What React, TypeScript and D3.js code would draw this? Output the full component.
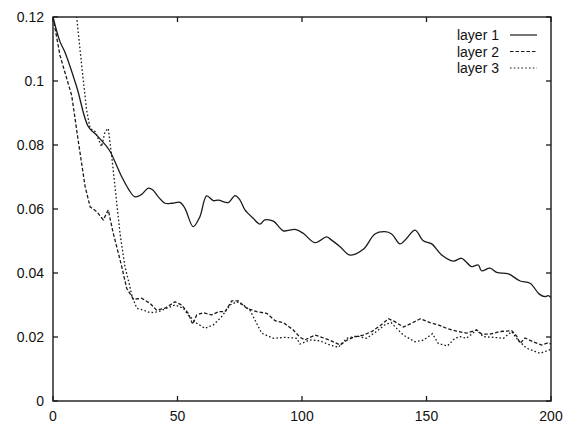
import React from "react";
import * as d3 from "d3";

const layer1X = [0, 2.8, 4.8, 9.5, 14.2, 17.5, 21.6, 23, 27.6, 30.5, 32.9, 35.5, 38.3, 40, 42.3, 45, 48, 51, 53, 56.3, 59, 61.7, 64.4, 66.4, 70.4, 73.1, 75.1, 77.1, 80.4, 83.1, 85.1, 88.5, 92.5, 97.2, 100.5, 105.2, 109.9, 111.5, 115.3, 119.3, 124.6, 129.3, 133.3, 136, 139.4, 142, 145.4, 148.7, 152.1, 156.1, 160.8, 164.1, 168.1, 170.8, 172.1, 175.5, 178.2, 182.9, 187.6, 191.6, 195.3, 197.6, 198.9, 200];
const layer1Y = [0.12, 0.1123, 0.109, 0.0982, 0.0857, 0.0831, 0.0795, 0.0779, 0.0701, 0.066, 0.0638, 0.0645, 0.0665, 0.066, 0.0638, 0.0618, 0.0618, 0.0621, 0.0602, 0.0545, 0.0576, 0.0641, 0.0626, 0.0628, 0.062, 0.0642, 0.0628, 0.0597, 0.0571, 0.0553, 0.0566, 0.0562, 0.0532, 0.0536, 0.0524, 0.0495, 0.0513, 0.0505, 0.0482, 0.0456, 0.0474, 0.0522, 0.0529, 0.0522, 0.0491, 0.0508, 0.0534, 0.0501, 0.0491, 0.0456, 0.0437, 0.0446, 0.042, 0.0425, 0.0407, 0.0415, 0.0402, 0.0397, 0.0375, 0.0368, 0.0334, 0.0326, 0.0329, 0.0323];

const layer2X = [0, 2.8, 5.5, 7.5, 10.2, 12.9, 14.9, 17.5, 20.2, 22.2, 24.2, 25.6, 27.6, 29.6, 32.3, 35.6, 39, 41.6, 45, 49, 51.7, 54.3, 56.1, 57.7, 60.4, 63.7, 66.4, 69.1, 71.8, 74.4, 77.8, 81.8, 85.8, 89.2, 92.5, 96.5, 99.2, 101.2, 105.2, 107.2, 111.2, 115.3, 118, 120.6, 124.6, 128, 131.3, 134.7, 137.3, 140.7, 144, 147.6, 151.4, 154.7, 158.1, 162.1, 166.1, 170.1, 172.1, 175.5, 179.5, 184.2, 186.2, 187.6, 189.6, 192.9, 196.3, 198.9, 200];
const layer2Y = [0.12, 0.108, 0.1008, 0.0955, 0.081, 0.067, 0.0607, 0.0592, 0.0566, 0.0597, 0.0524, 0.0482, 0.042, 0.0352, 0.0318, 0.0321, 0.0305, 0.0284, 0.029, 0.031, 0.03, 0.0274, 0.024, 0.0269, 0.0276, 0.0269, 0.0279, 0.0279, 0.0313, 0.0313, 0.029, 0.0279, 0.0274, 0.0251, 0.0245, 0.0222, 0.0199, 0.0191, 0.0206, 0.0201, 0.019, 0.0175, 0.019, 0.0199, 0.0206, 0.0217, 0.0235, 0.0257, 0.0248, 0.0231, 0.0243, 0.0257, 0.0245, 0.0238, 0.0227, 0.0218, 0.0212, 0.0222, 0.0209, 0.0209, 0.0217, 0.022, 0.0203, 0.018, 0.0197, 0.0185, 0.0175, 0.0182, 0.0178];

const layer3X = [6, 9.5, 11.5, 13.5, 14.9, 16.9, 19.5, 20.9, 22.2, 23.6, 24.9, 26.9, 28.9, 30.9, 31.6, 33.6, 36.3, 39, 42.3, 45.7, 49, 52.3, 54.3, 57.7, 61, 64.4, 67.7, 71.1, 73.8, 76.4, 79.1, 81.1, 83.8, 88.5, 93.2, 97.9, 99.2, 103.2, 107.2, 111.2, 114.6, 118, 121.9, 125.9, 129.9, 133.3, 135.8, 138, 140.7, 145.4, 148.7, 152.4, 154.7, 158.4, 161.4, 163.5, 166.1, 170.1, 172.8, 176.8, 180.9, 184.2, 186.8, 190.2, 195.6, 199.6, 200];
const layer3Y = [0.145, 0.12, 0.105, 0.0909, 0.0852, 0.0842, 0.0795, 0.0842, 0.0852, 0.0763, 0.067, 0.0524, 0.042, 0.0357, 0.0331, 0.029, 0.0284, 0.0276, 0.0279, 0.029, 0.03, 0.029, 0.0269, 0.0243, 0.0227, 0.0238, 0.0263, 0.03, 0.031, 0.03, 0.0284, 0.0253, 0.0212, 0.0196, 0.0199, 0.0196, 0.0178, 0.0191, 0.0188, 0.0175, 0.0168, 0.0196, 0.0203, 0.0196, 0.0217, 0.0238, 0.0245, 0.0227, 0.0206, 0.0185, 0.019, 0.021, 0.018, 0.0172, 0.0196, 0.0201, 0.0196, 0.0222, 0.0201, 0.0199, 0.0196, 0.0217, 0.019, 0.0165, 0.0149, 0.016, 0.0158];

const seriesNames = ["layer 1", "layer 2", "layer 3"];
const xTicks = [0, 50, 100, 150, 200];
const yTicks = [0, 0.02, 0.04, 0.06, 0.08, 0.1, 0.12];
const yTickLabels = ["0", "0.02", "0.04", "0.06", "0.08", "0.1", "0.12"];

const W = 565;
const H = 423;
const L = 53, R = 551, T = 17, B = 401;
const FONT = "'Liberation Sans', Arial, Helvetica, sans-serif";

export default function App() {
  const x = d3.scaleLinear().domain([0, 200]).range([L, R]);
  const y = d3.scaleLinear().domain([0, 0.12]).range([B, T]);

  const series = [
    { xs: layer1X, ys: layer1Y, dash: undefined as string | undefined, curve: d3.curveCatmullRom },
    { xs: layer2X, ys: layer2Y, dash: "3.5,2", curve: d3.curveLinear },
    { xs: layer3X, ys: layer3Y, dash: "1.6,2.2", curve: d3.curveLinear },
  ];

  const mk = (xs: number[], ys: number[], curve: any) =>
    d3
      .line<number>()
      .x((_, i) => x(xs[i]))
      .y((_, i) => y(ys[i]))
      .curve(curve)(xs) || "";

  const tickLen = 5;
  const stroke = "#1a1a1a";

  return (
    <div style={{ position: "absolute", left: 0, top: 0 }}>
      <svg width={W} height={H} style={{ display: "block", background: "#fff" }}>
        <defs>
          <clipPath id="plot">
            <rect x={L} y={T} width={R - L} height={B - T} />
          </clipPath>
        </defs>
        <rect x={0} y={0} width={W} height={H} fill="#fff" />
        {xTicks.map((t) => (
          <g key={"xt" + t}>
            <line x1={x(t)} x2={x(t)} y1={B} y2={B - tickLen} stroke={stroke} strokeWidth={1.3} />
            <line x1={x(t)} x2={x(t)} y1={T} y2={T + tickLen} stroke={stroke} strokeWidth={1.3} />
            <text x={x(t)} y={420.5} textAnchor="middle" fontFamily={FONT} fontSize={14} fill="#111">
              {t}
            </text>
          </g>
        ))}
        {yTicks.map((t, i) => (
          <g key={"yt" + t}>
            <line x1={L} x2={L + tickLen} y1={y(t)} y2={y(t)} stroke={stroke} strokeWidth={1.3} />
            <line x1={R} x2={R - tickLen} y1={y(t)} y2={y(t)} stroke={stroke} strokeWidth={1.3} />
            <text x={44} y={y(t) + 5} textAnchor="end" fontFamily={FONT} fontSize={14} fill="#111">
              {yTickLabels[i]}
            </text>
          </g>
        ))}
        <g clipPath="url(#plot)">
          {series.map((s, i) => (
            <path
              key={i}
              d={mk(s.xs, s.ys, s.curve)}
              fill="none"
              stroke={stroke}
              strokeWidth={1.3}
              strokeDasharray={s.dash}
            />
          ))}
        </g>
        <rect x={L} y={T} width={R - L} height={B - T} fill="none" stroke={stroke} strokeWidth={1.4} />
        {seriesNames.map((n, i) => {
          const yy = 35 + i * 16.5;
          return (
            <g key={n}>
              <text x={499} y={yy + 5} textAnchor="end" fontFamily={FONT} fontSize={14} fill="#111">
                {n}
              </text>
              <line
                x1={510}
                x2={537}
                y1={yy}
                y2={yy}
                stroke={stroke}
                strokeWidth={1.2}
                strokeDasharray={series[i].dash}
              />
            </g>
          );
        })}
      </svg>
    </div>
  );
}
